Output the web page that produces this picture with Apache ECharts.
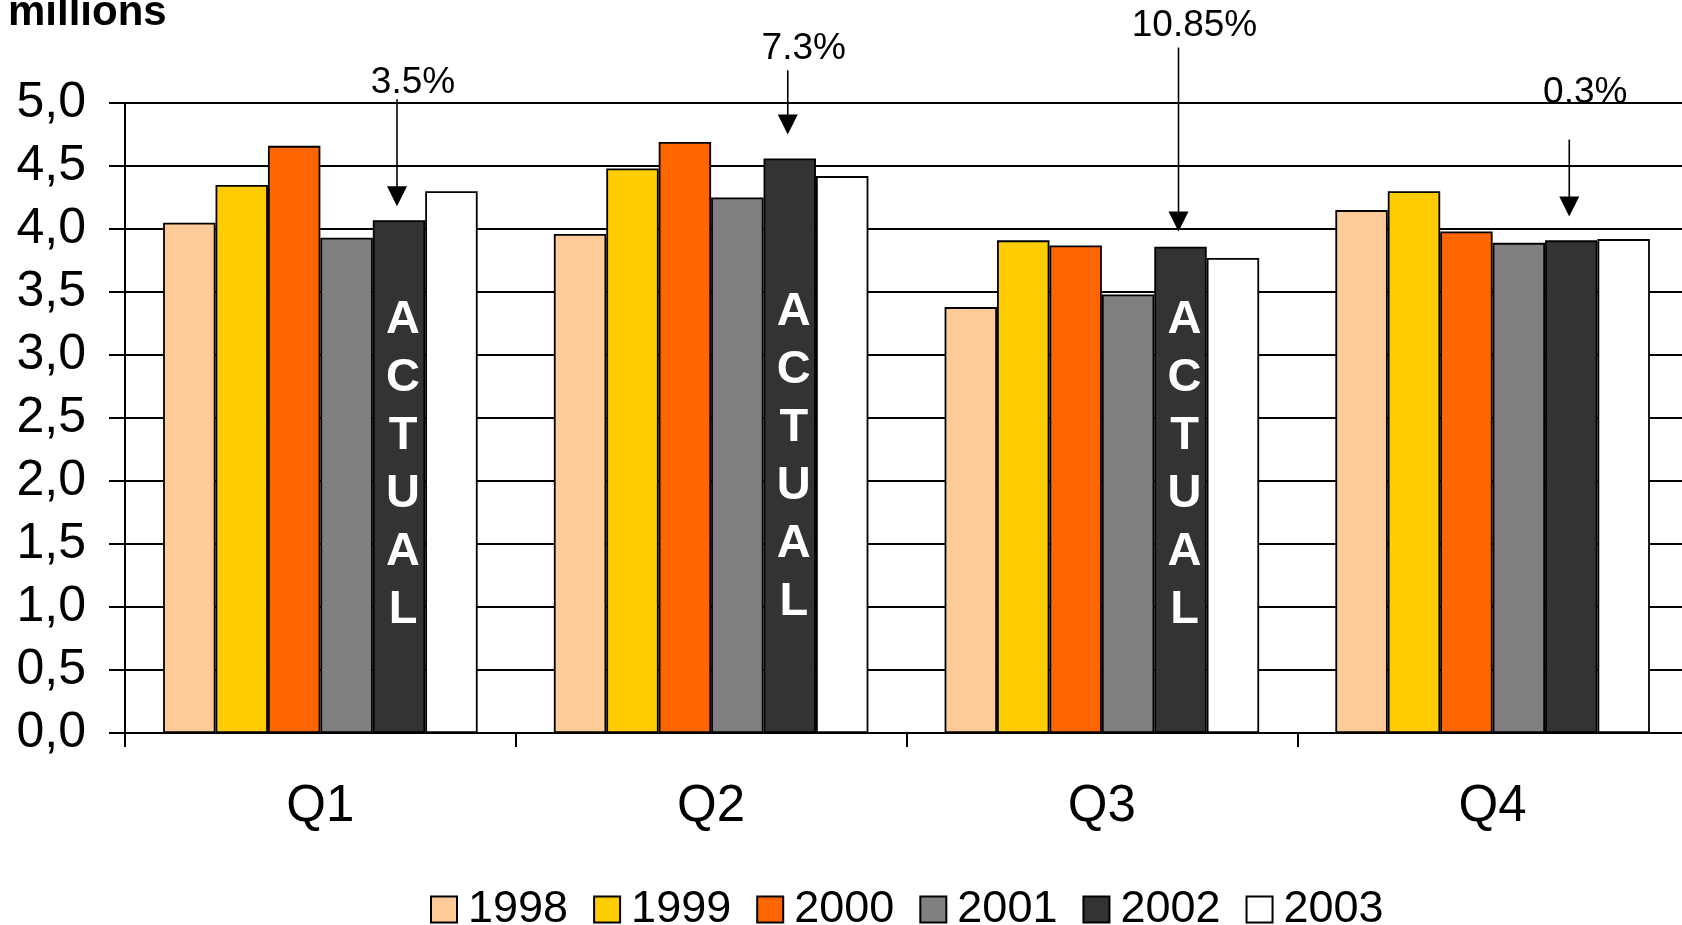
<!DOCTYPE html>
<html>
<head>
<meta charset="utf-8">
<title>Quarterly volume 1998–2003</title>
<script src="https://cdn.jsdelivr.net/npm/echarts@6/dist/echarts.min.js"></script>
<style>
  html, body { margin: 0; padding: 0; background: #ffffff; }
  #chart { width: 1682px; height: 925px; }
</style>
</head>
<body>
<div id="chart"></div>
<script>
// Quarters on the category axis
const quarters = ['Q1', 'Q2', 'Q3', 'Q4'];

// One series per year (millions)
const years = ['1998', '1999', '2000', '2001', '2002', '2003'];
const v1998 = [4.05, 3.96, 3.38, 4.15];
const v1999 = [4.35, 4.48, 3.91, 4.30];
const v2000 = [4.66, 4.69, 3.87, 3.98];
const v2001 = [3.93, 4.25, 3.48, 3.89];
const v2002 = [4.07, 4.56, 3.86, 3.91];
const v2003 = [4.30, 4.42, 3.77, 3.92];
const yearValues = [v1998, v1999, v2000, v2001, v2002, v2003];
const yearColors = ['#FFCC99', '#FFCC00', '#FF6600', '#808080', '#333333', '#FFFFFF'];

// Value-axis ticks
const yMin = 0, yMax = 5, yStep = 0.5;

// Change callouts over the 2002 bars: label, arrow start, arrow tip, label level
const changeLabels = ['3.5%', '7.3%', '10.85%', '0.3%'];
const arrowFrom = [5.03, 5.26, 5.44, 4.71];
const arrowTo = [4.18, 4.75, 3.98, 4.10];
const labelLevel = [5.16, 5.43, 5.61, 5.08];

// Quarters whose 2002 bar is marked "ACTUAL", and the level of the word's centre
const actualQuarters = [0, 1, 2];
const actualLevel = [2.13, 2.19, 2.13];

const FONT = '"Liberation Sans", Arial, Helvetica, sans-serif';
const BAR_GAP = 0.195;              // share of each category left empty
const HIGHLIGHT = years.indexOf('2002');

// horizontal offset of the 2002 bar from its category centre
function barOffset(api) {
  const band = api.size([1, 0])[0];
  const bw = band * (1 - BAR_GAP) / years.length;
  return (HIGHLIGHT + 0.5 - years.length / 2) * bw;
}

function renderArrow(params, api) {
  const i = params.dataIndex;
  const q = api.value(0);
  const dx = barOffset(api);
  const top = api.coord([q, api.value(1)]);
  const tip = api.coord([q, api.value(2)]);
  const lab = api.coord([q, api.value(3)]);
  const x = top[0] + dx - 2;
  const head = 20;
  return {
    type: 'group',
    children: [
      { type: 'line', shape: { x1: x, y1: top[1], x2: x, y2: tip[1] - head + 2 },
        style: { stroke: '#000', lineWidth: 1.6 } },
      { type: 'polygon', shape: { points: [[x - 10, tip[1] - head], [x + 10, tip[1] - head], [x, tip[1]]] },
        style: { fill: '#000' } },
      { type: 'text', x: x + 16, y: lab[1],
        style: { text: changeLabels[i], font: '37px ' + FONT, fill: '#000',
                 align: 'center', verticalAlign: 'middle' } }
    ]
  };
}

function renderActual(params, api) {
  const q = api.value(0);
  const p = api.coord([q, api.value(1)]);
  return {
    type: 'text', x: p[0] + barOffset(api) + 4, y: p[1],
    style: { text: 'A\nC\nT\nU\nA\nL', font: 'bold 47px ' + FONT, lineHeight: 58,
             fill: '#ffffff', align: 'center', verticalAlign: 'middle' }
  };
}

const barSeries = years.map((y, k) => ({
  name: y,
  type: 'bar',
  data: yearValues[k],
  barGap: '0%',
  barCategoryGap: (BAR_GAP * 100) + '%',
  itemStyle: { color: yearColors[k], borderColor: '#000', borderWidth: 1.8 },
  emphasis: { disabled: true },
  animation: false
}));

const chart = echarts.init(document.getElementById('chart'), null, { renderer: 'canvas' });
chart.setOption({
  backgroundColor: '#ffffff',
  animation: false,
  grid: { left: 125, top: 103, width: 1563, height: 630, containLabel: false, outerBoundsMode: 'none' },
  xAxis: {
    type: 'category',
    data: quarters,
    axisLine: { lineStyle: { color: '#000', width: 2 } },
    axisTick: { show: true, length: 14, lineStyle: { color: '#000', width: 2 } },
    axisLabel: { color: '#000', fontSize: 51, fontFamily: FONT, margin: 48 },
    splitLine: { show: false }
  },
  yAxis: {
    type: 'value',
    min: yMin, max: yMax, interval: yStep,
    axisLine: { show: true, lineStyle: { color: '#000', width: 2 } },
    axisTick: { show: true, length: 16, lineStyle: { color: '#000', width: 2 } },
    axisLabel: {
      color: '#000', fontSize: 50, fontFamily: FONT, margin: 39,
      formatter: v => v.toFixed(1).replace('.', ',')
    },
    splitLine: { show: true, lineStyle: { color: '#000', width: 1.8 } }
  },
  legend: {
    data: years,
    left: 425, top: 882,
    icon: 'rect',
    itemWidth: 26, itemHeight: 26, itemGap: 25,
    selectedMode: false,
    textStyle: { color: '#000', fontSize: 45, fontFamily: FONT, padding: [0, 0, 0, 6] }
  },
  graphic: [
    { type: 'text', left: 8, top: -8,
      style: { text: 'millions', font: 'bold 42px ' + FONT, fill: '#000' } }
  ],
  series: barSeries.concat([
    {
      name: 'change', type: 'custom', z: 5, clip: false, silent: true,
      renderItem: renderArrow,
      encode: { x: 0, y: [1, 2, 3] },
      data: quarters.map((q, i) => [i, arrowFrom[i], arrowTo[i], labelLevel[i]])
    },
    {
      name: 'actual', type: 'custom', z: 5, clip: false, silent: true,
      renderItem: renderActual,
      encode: { x: 0, y: 1 },
      data: actualQuarters.map((q, i) => [q, actualLevel[i]])
    }
  ])
});
</script>
</body>
</html>
